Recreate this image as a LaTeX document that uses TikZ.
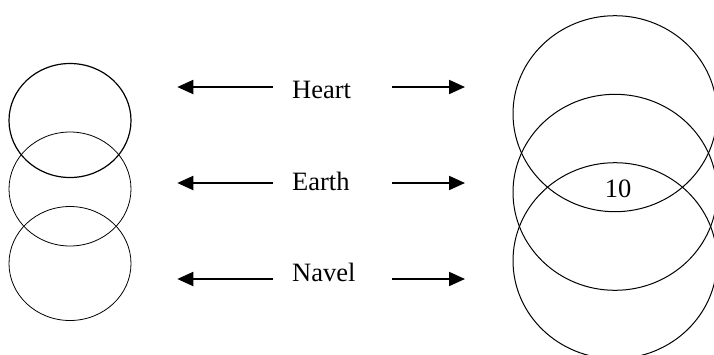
\documentclass[tikz,border=0pt]{standalone}
\usepackage{fontspec}
\setmainfont{Liberation Serif}
\usetikzlibrary{arrows.meta,shapes.geometric}
\begin{document}
\begin{tikzpicture}[x=1pt,y=-1pt,
  smallring/.style={draw,ellipse,minimum width=122pt,minimum height=114pt,inner sep=0pt,line width=0.8pt},
  bigring/.style={draw,ellipse,minimum width=204pt,minimum height=196pt,inner sep=0pt,line width=1pt},
  lbl/.style={font=\fontsize{26.5}{30}\selectfont,anchor=base west,inner sep=0pt},
  arr/.style={line width=2pt,-{Triangle[length=16pt,width=14pt]}}]
\useasboundingbox (0,0) rectangle (714,354);
\clip (0,0) rectangle (714,354);
% left rings
\node[smallring,line width=1.2pt] (l1) at (70,120.5) {};
\node[smallring] (l2) at (70,189) {};
\node[smallring] (l3) at (70,263.5) {};
% right rings
\node[bigring] (r1) at (615,113.7) {};
\node[bigring] (r2) at (615,192.3) {};
\node[bigring] (r3) at (615,260.7) {};
\node[font=\fontsize{26.5}{30}\selectfont,anchor=base,inner sep=0pt] (ten) at (618,197.3) {10};
% labels
\node[lbl] (heart) at (292,98.3) {Heart};
\node[lbl] (earth) at (292,190) {Earth};
\node[lbl] (navel) at (292,281.7) {Navel};
% arrow end points
\coordinate (hl0) at (273.3,87); \coordinate (hl1) at (177.3,87);
\coordinate (hr0) at (392.3,87); \coordinate (hr1) at (465,87);
\coordinate (el0) at (273.3,183); \coordinate (el1) at (177.3,183);
\coordinate (er0) at (392.3,183); \coordinate (er1) at (465,183);
\coordinate (nl0) at (273.3,279); \coordinate (nl1) at (177.3,279);
\coordinate (nr0) at (392.3,279); \coordinate (nr1) at (465,279);
\draw[arr] (hl0) -- (hl1);
\draw[arr] (hr0) -- (hr1);
\draw[arr] (el0) -- (el1);
\draw[arr] (er0) -- (er1);
\draw[arr] (nl0) -- (nl1);
\draw[arr] (nr0) -- (nr1);
\end{tikzpicture}
\end{document}
